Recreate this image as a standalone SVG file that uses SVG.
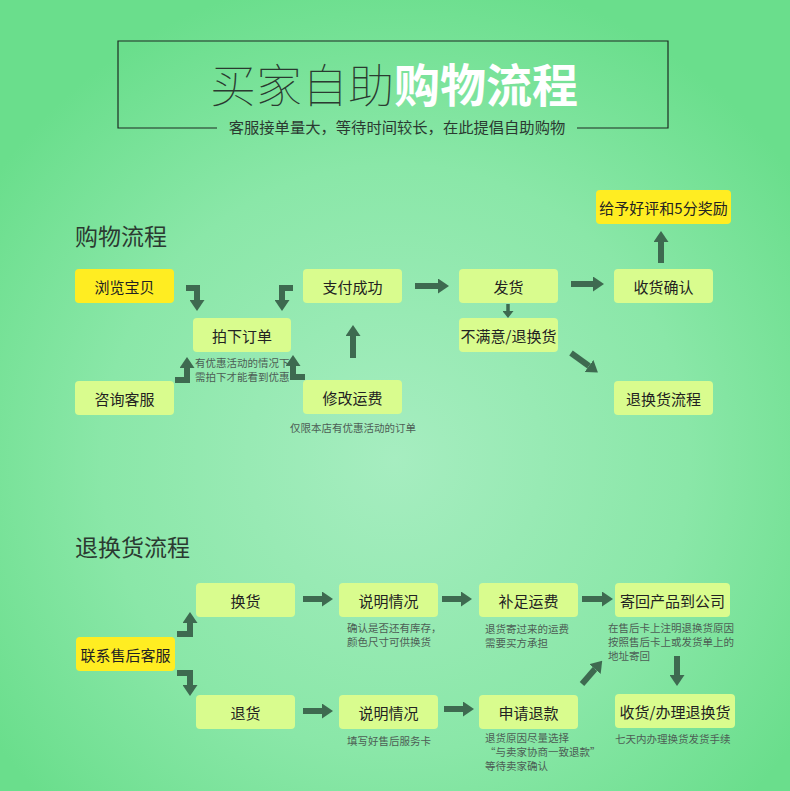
<svg xmlns="http://www.w3.org/2000/svg" width="790" height="791" viewBox="0 0 790 791">
<defs>
<radialGradient id="bg" cx="50%" cy="58%" r="62%">
<stop offset="0" stop-color="#a6edc0"/>
<stop offset="0.6" stop-color="#8ae7a8"/>
<stop offset="1" stop-color="#6ade8c"/>
</radialGradient>
<marker id="ah" markerUnits="userSpaceOnUse" markerWidth="11" markerHeight="15" refX="0" refY="7.5" orient="auto">
<path d="M0,0 L11,7.5 L0,15 z" fill="#3e6a50"/>
</marker>
<marker id="ahs" markerUnits="userSpaceOnUse" markerWidth="7" markerHeight="11" refX="0" refY="5.5" orient="auto">
<path d="M0,0 L7,5.5 L0,11 z" fill="#3e6a50"/>
</marker>
</defs>
<style>
text{font-family:"Noto Sans CJK SC","Noto Sans",sans-serif}
.box{fill:#d9fc8e}
.ybox{fill:#ffed22}
.lbl{font-size:15px;fill:#222;text-anchor:middle;dominant-baseline:central}
.note{font-size:10.5px;fill:#4d5e55}
.head{font-size:23px;fill:#2b3a31}
.arr{fill:none;stroke:#3e6a50;stroke-width:6;marker-end:url(#ah)}
.arrs{fill:none;stroke:#3e6a50;stroke-width:3.5;marker-end:url(#ahs)}
</style>
<rect width="790" height="791" fill="url(#bg)"/>

<g id="title">
<path d="M217,128 H118 V41 H668 V128 H577" fill="none" stroke="#1c2b22" stroke-width="1.2"/>
<text x="210" y="102" font-size="46" font-weight="100" fill="#2a3a30">买家自助<tspan font-weight="700" fill="#ffffff">购物流程</tspan></text>
<text x="397" y="133" font-size="15.3" fill="#2b3a31" text-anchor="middle">客服接单量大，等待时间较长，在此提倡自助购物</text>
</g>

<text x="75" y="245" class="head">购物流程</text>
<text x="75" y="556" class="head">退换货流程</text>

<g id="n-browse"><rect class="ybox" x="75" y="269" width="99" height="34" rx="4"/><text class="lbl" x="124.5" y="286">浏览宝贝</text></g>
<g id="n-order"><rect class="box" x="193" y="318" width="98" height="34" rx="4"/><text class="lbl" x="242" y="335">拍下订单</text></g>
<g id="n-consult"><rect class="box" x="75" y="381" width="99" height="34" rx="4"/><text class="lbl" x="124.5" y="398">咨询客服</text></g>
<g id="n-pay"><rect class="box" x="303" y="269" width="99" height="34" rx="4"/><text class="lbl" x="352.5" y="286">支付成功</text></g>
<g id="n-fee"><rect class="box" x="303" y="380" width="99" height="34" rx="4"/><text class="lbl" x="352.5" y="397">修改运费</text></g>
<g id="n-ship"><rect class="box" x="459" y="269" width="99" height="34" rx="4"/><text class="lbl" x="508.5" y="286">发货</text></g>
<g id="n-unsat"><rect class="box" x="459" y="318" width="99" height="34" rx="4"/><text class="lbl" x="508.5" y="335">不满意/退换货</text></g>
<g id="n-recv"><rect class="box" x="614" y="269" width="99" height="34" rx="4"/><text class="lbl" x="663.5" y="286">收货确认</text></g>
<g id="n-praise"><rect class="ybox" x="596" y="190" width="135" height="34" rx="4"/><text class="lbl" x="663.5" y="207">给予好评和5分奖励</text></g>
<g id="n-retflow"><rect class="box" x="614" y="381" width="99" height="34" rx="4"/><text class="lbl" x="663.5" y="398">退换货流程</text></g>

<g id="notes1">
<text class="note" x="195" y="367">有优惠活动的情况下</text>
<text class="note" x="195" y="381">需拍下才能看到优惠</text>
<text class="note" x="290" y="432">仅限本店有优惠活动的订单</text>
</g>

<g id="n-contact"><rect class="ybox" x="76" y="637" width="99" height="34" rx="4"/><text class="lbl" x="125.5" y="654">联系售后客服</text></g>
<g id="n-exch"><rect class="box" x="196" y="583" width="99" height="34" rx="4"/><text class="lbl" x="245.5" y="600">换货</text></g>
<g id="n-ret"><rect class="box" x="196" y="695" width="99" height="34" rx="4"/><text class="lbl" x="245.5" y="712">退货</text></g>
<g id="n-exp1"><rect class="box" x="339" y="583" width="99" height="34" rx="4"/><text class="lbl" x="388.5" y="600">说明情况</text></g>
<g id="n-exp2"><rect class="box" x="339" y="695" width="99" height="34" rx="4"/><text class="lbl" x="388.5" y="712">说明情况</text></g>
<g id="n-pay2"><rect class="box" x="479" y="583" width="99" height="34" rx="4"/><text class="lbl" x="528.5" y="600">补足运费</text></g>
<g id="n-refund"><rect class="box" x="479" y="695" width="99" height="34" rx="4"/><text class="lbl" x="528.5" y="712">申请退款</text></g>
<g id="n-sendback"><rect class="box" x="615" y="583" width="115" height="34" rx="4"/><text class="lbl" x="672.5" y="600">寄回产品到公司</text></g>
<g id="n-handle"><rect class="box" x="615" y="694" width="120" height="34" rx="4"/><text class="lbl" x="675" y="711">收货/办理退换货</text></g>

<g id="notes2">
<text class="note" x="347" y="632">确认是否还有库存，</text>
<text class="note" x="347" y="646">颜色尺寸可供换货</text>
<text class="note" x="347" y="745">填写好售后服务卡</text>
<text class="note" x="485" y="633">退货寄过来的运费</text>
<text class="note" x="485" y="647">需要买方承担</text>
<text class="note" x="608" y="632">在售后卡上注明退换货原因</text>
<text class="note" x="608" y="646">按照售后卡上或发货单上的</text>
<text class="note" x="608" y="660">地址寄回</text>
<text class="note" x="485" y="742">退货原因尽量选择</text>
<text class="note" x="485" y="756">“与卖家协商一致退款”</text>
<text class="note" x="485" y="770">等待卖家确认</text>
<text class="note" x="615" y="743">七天内办理换货发货手续</text>
</g>

<g id="connectors">
<path class="arr" d="M186,288 H197 V300"/>
<path class="arr" d="M293,288 H282 V300"/>
<path class="arr" d="M175,380 H187 V368"/>
<path class="arr" d="M305,377 H293 V366"/>
<path class="arr" d="M353,358 V336"/>
<path class="arr" d="M415,286 H438"/>
<path class="arr" d="M571,284 H593"/>
<path class="arrs" d="M508,304 V311"/>
<path class="arr" d="M661,263 V242"/>
<path class="arr" d="M571,353 L589,366"/>
<path class="arr" d="M177,634 H190 V623"/>
<path class="arr" d="M177,673 H190 V685"/>
<path class="arr" d="M303,599 H322"/>
<path class="arr" d="M303,711 H322"/>
<path class="arr" d="M442,599 H461"/>
<path class="arr" d="M582,599 H602"/>
<path class="arr" d="M444,709 H463"/>
<path class="arr" d="M582,684 L595,669"/>
<path class="arr" d="M677,656 V675"/>
</g>
</svg>
